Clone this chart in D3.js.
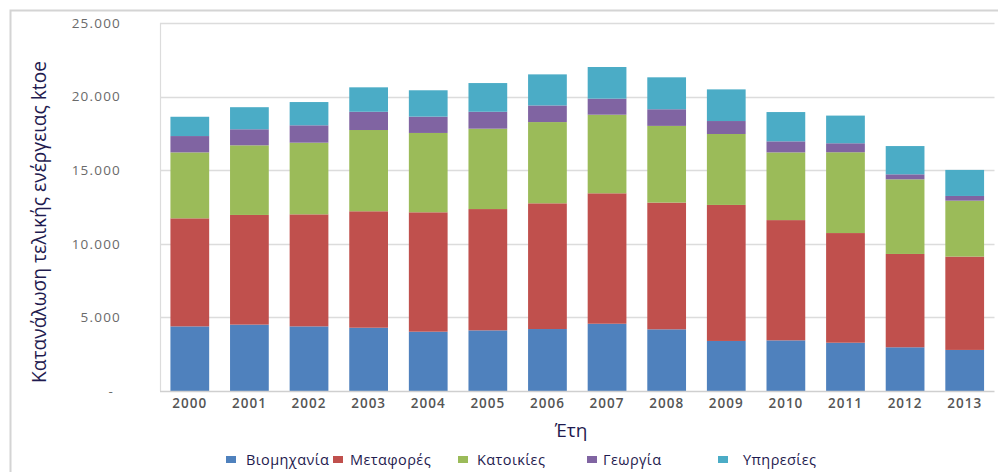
<!DOCTYPE html>
<html>
<head>
<meta charset="utf-8">
<script src="https://cdn.jsdelivr.net/npm/d3@7"></script>
<style>
  html, body { margin: 0; padding: 0; background: #fff; }
  svg { display: block; }
</style>
</head>
<body>
<svg id="chart" width="998" height="472"></svg>
<script>
// Final energy consumption by sector (ktoe), Greece 2000-2013
const years = ["2000","2001","2002","2003","2004","2005","2006","2007","2008","2009","2010","2011","2012","2013"];
const industry    = [4390, 4510, 4390, 4300, 4030, 4120, 4210, 4570, 4190, 3400, 3440, 3280, 2970, 2790];
const transport   = [7340, 7450, 7610, 7910, 8110, 8240, 8540, 8860, 8610, 9240, 8170, 7450, 6340, 6340];
const residential = [4480, 4730, 4870, 5520, 5390, 5460, 5520, 5340, 5210, 4820, 4600, 5490, 5070, 3800];
const agriculture = [1110, 1090, 1180, 1240, 1110, 1150, 1130, 1090, 1130, 880, 750, 610, 340, 320];
const services    = [1310, 1500, 1580, 1660, 1790, 1950, 2110, 2150, 2170, 2150, 1990, 1880, 1920, 1770];

const seriesNames  = ["Βιομηχανία", "Μεταφορές", "Κατοικίες", "Γεωργία", "Υπηρεσίες"];
const seriesValues = [industry, transport, residential, agriculture, services];
const seriesColors = ["#4F81BD", "#C0504D", "#9BBB59", "#8064A2", "#4BACC6"];

const yTickValues = [0, 5000, 10000, 15000, 20000, 25000];
const yTickLabels = ["-", "5.000", "10.000", "15.000", "20.000", "25.000"];

const yTitle = "Κατανάλωση τελικής ενέργειας ktoe";
const xTitle = "Έτη";

const svg = d3.select("#chart");
const plot = { left: 160, right: 994.5, top: 23, bottom: 391 };
const font = "'Open Sans', 'DejaVu Sans', sans-serif";

// outer chart-area frame
svg.append("path")
  .attr("d", "M10.5,472 V10.5 H998")
  .attr("fill", "none")
  .attr("stroke", "#d4d4d4")
  .attr("stroke-width", 2);

const x = d3.scaleBand()
  .domain(years)
  .range([plot.left, plot.right])
  .paddingInner(0.35)
  .paddingOuter(0.175);

const y = d3.scaleLinear()
  .domain([0, 25000])
  .range([plot.bottom, plot.top]);

// horizontal gridlines
svg.append("g")
  .selectAll("line")
  .data(yTickValues.filter(v => v > 0))
  .join("line")
  .attr("x1", plot.left)
  .attr("x2", plot.right)
  .attr("y1", d => Math.round(y(d)) + 0.5)
  .attr("y2", d => Math.round(y(d)) + 0.5)
  .attr("stroke", "#dcdcdc")
  .attr("stroke-width", 1.5);

// left plot edge
svg.append("line")
  .attr("x1", plot.left + 0.5).attr("x2", plot.left + 0.5)
  .attr("y1", plot.top).attr("y2", plot.bottom)
  .attr("stroke", "#dcdcdc")
  .attr("stroke-width", 1.2);

// stacked data
const rows = years.map((yr, i) => {
  const r = { year: yr };
  seriesNames.forEach((n, k) => { r[n] = seriesValues[k][i]; });
  return r;
});
const stack = d3.stack().keys(seriesNames)(rows);

svg.append("g")
  .selectAll("g")
  .data(stack)
  .join("g")
  .attr("fill", (d, i) => seriesColors[i])
  .selectAll("rect")
  .data(d => d)
  .join("rect")
  .attr("x", d => x(d.data.year))
  .attr("width", x.bandwidth())
  .attr("y", d => y(d[1]))
  .attr("height", d => y(d[0]) - y(d[1]));

// x axis line
svg.append("line")
  .attr("x1", plot.left).attr("x2", plot.right)
  .attr("y1", plot.bottom + 0.5).attr("y2", plot.bottom + 0.5)
  .attr("stroke", "#cfcfcf")
  .attr("stroke-width", 1.5);

// y axis labels
const yAxis = d3.axisLeft(y)
  .tickValues(yTickValues)
  .tickFormat((d, i) => yTickLabels[i])
  .tickSize(0)
  .tickPadding(0);
const gy = svg.append("g")
  .attr("transform", "translate(121,0)")
  .call(yAxis);
gy.select(".domain").remove();
gy.selectAll("text")
  .attr("font-family", font)
  .attr("font-size", 13.5)
  .attr("letter-spacing", 1.2)
  .attr("fill", "#6a6a6a")
  .attr("dx", d => d === 0 ? -7 : 0);

// x axis labels
const xAxis = d3.axisBottom(x).tickSize(0).tickPadding(0);
const gx = svg.append("g")
  .attr("transform", `translate(0,${plot.bottom})`)
  .call(xAxis);
gx.select(".domain").remove();
gx.selectAll("text")
  .attr("font-family", font)
  .attr("font-size", 13.5)
  .attr("font-weight", 600)
  .attr("letter-spacing", 1)
  .attr("fill", "#555")
  .attr("dy", 0)
  .attr("y", 17);

// axis titles
svg.append("text")
  .attr("transform", "translate(46,222) rotate(-90)")
  .attr("text-anchor", "middle")
  .attr("font-family", font)
  .attr("font-size", 19.2)
  .attr("fill", "#1f1b4f")
  .text(yTitle);

svg.append("text")
  .attr("x", 571)
  .attr("y", 437)
  .attr("text-anchor", "middle")
  .attr("font-family", font)
  .attr("font-size", 19)
  .attr("fill", "#1f1b4f")
  .text(xTitle);

// legend
const legendX = [226, 333, 458, 587, 718];
const legendTextX = [246, 350, 477, 603, 743];
const legend = svg.append("g");
seriesNames.forEach((n, i) => {
  legend.append("rect")
    .attr("x", legendX[i])
    .attr("y", 456)
    .attr("width", 10)
    .attr("height", 7)
    .attr("fill", seriesColors[i]);
  legend.append("text")
    .attr("x", legendTextX[i])
    .attr("y", 465)
    .attr("font-family", font)
    .attr("font-size", 14.5)
    .attr("letter-spacing", 0.4)
    .attr("fill", "#1f1b4f")
    .text(n);
});
</script>
</body>
</html>
